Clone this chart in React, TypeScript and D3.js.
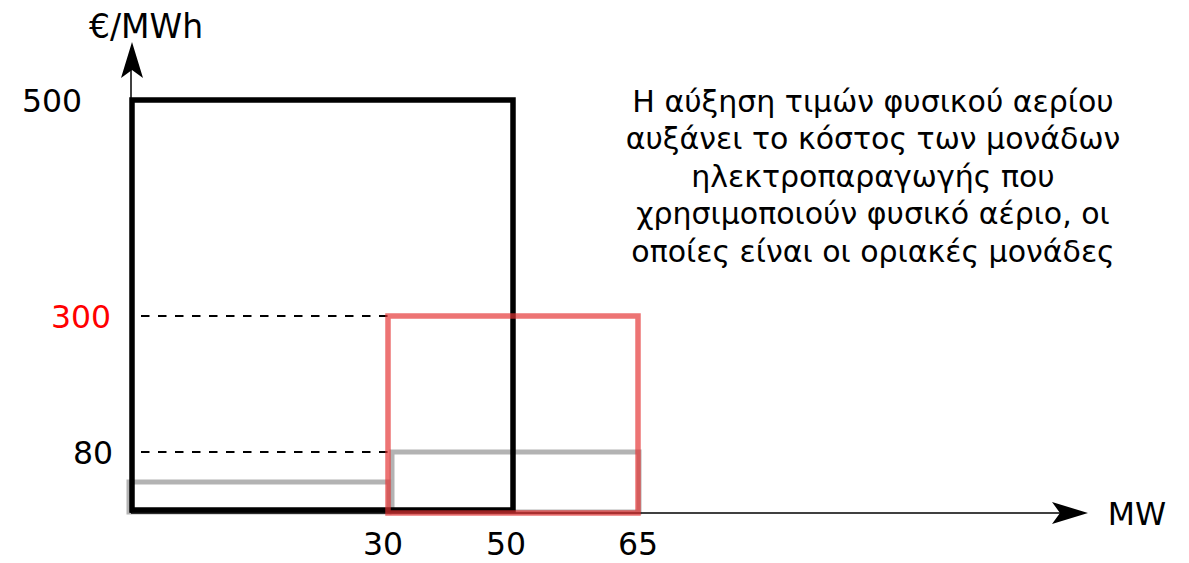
import React from "react";
import * as d3 from "d3";

// Schematic axes: value breakpoints (MW and €/MWh)
const xBreaks = [0, 30, 50, 65];
const yBreaks = [0, 80, 300, 500];
const xTickLabels = ["30", "50", "65"];
const xTickValues = [30, 50, 65];
const yTickLabels = ["500", "300", "80"];
const yTickValues = [500, 300, 80];

// Blocks: capacity range (MW) and price (€/MWh)
const grayBlocks = [
  { x0: 0, x1: 30, price: 40 },
  { x0: 30, x1: 65, price: 80 },
];
const blackBlocks = [{ x0: 0, x1: 50, price: 500 }];
const redBlocks = [{ x0: 30, x1: 65, price: 300 }];
const dashedLevels = [300, 80];

const noteLines = [
  "Η αύξηση τιμών φυσικού αερίου",
  "αυξάνει το κόστος των μονάδων",
  "ηλεκτροπαραγωγής που",
  "χρησιμοποιούν φυσικό αέριο, οι",
  "οποίες είναι οι οριακές μονάδες",
];

const W = 1189;
const H = 563;
const FONT = "'DejaVu Sans', Verdana, sans-serif";

export default function App() {
  const x = d3.scaleLinear().domain(xBreaks).range([132, 389, 513, 639]);
  const y = d3.scaleLinear().domain(yBreaks).range([512, 452, 316, 100]);
  const axisX = 131;
  const axisY = 513;

  const rect = (b: { x0: number; x1: number; price: number }) => ({
    x: x(b.x0),
    y: y(b.price),
    w: x(b.x1) - x(b.x0),
    h: y(0) - y(b.price),
  });

  // label placement per tick (schematic offsets)
  const xLabelDx = [-6, -7, -1];
  const yLabelPos = [
    { x: 52, anchor: "middle" },
    { x: 111, anchor: "end" },
    { x: 113, anchor: "end" },
  ];

  return (
    <svg width={W} height={H} style={{ position: "absolute", left: 0, top: 0, background: "#fff" }}>
      {/* gray blocks */}
      {grayBlocks.map((b, i) => {
        const r = rect(b);
        const inset = i === 1 ? 3 : -3;
        return (
          <rect key={"g" + i} x={r.x + inset} y={r.y} width={r.w - inset} height={r.h}
            fill="none" stroke="#a6a6a6" strokeWidth={5} opacity={0.85} />
        );
      })}
      {/* dashed guide lines */}
      {dashedLevels.map((v, i) => (
        <line key={"d" + i} x1={axisX + 10} x2={x(30)} y1={y(v)} y2={y(v)}
          stroke="#000" strokeWidth={1.8} strokeDasharray="8.5,8.5" />
      ))}
      {/* axes */}
      <line x1={axisX} y1={axisY} x2={axisX} y2={60} stroke="#000" strokeWidth={1.5} />
      <line x1={axisX} y1={axisY} x2={1070} y2={axisY} stroke="#000" strokeWidth={1.5} />
      <path d={`M${axisX + 1},42 L${axisX + 12},78 L${axisX + 1},70 L${axisX - 10},78 Z`} fill="#000" />
      <path d={`M1088,${axisY} L1052,${axisY - 11} L1060,${axisY} L1052,${axisY + 11} Z`} fill="#000" />
      {/* black block */}
      {blackBlocks.map((b, i) => {
        const r = rect(b);
        return (
          <rect key={"b" + i} x={r.x} y={r.y} width={r.w} height={r.h - 2}
            fill="none" stroke="#000" strokeWidth={5.5} />
        );
      })}
      {/* red block */}
      {redBlocks.map((b, i) => {
        const r = rect(b);
        return (
          <rect key={"r" + i} x={r.x - 1} y={r.y} width={r.w} height={r.h + 1}
            fill="none" stroke="rgb(228,50,50)" strokeWidth={5.5} opacity={0.68} />
        );
      })}
      {/* y tick labels */}
      {yTickValues.map((v, i) => (
        <text key={"yt" + i} x={yLabelPos[i].x} y={y(v) + 12} textAnchor={yLabelPos[i].anchor}
          fontFamily={FONT} fontSize={31.5} fill={v === 300 ? "#ff0000" : "#000"}>
          {yTickLabels[i]}
        </text>
      ))}
      {/* x tick labels */}
      {xTickValues.map((v, i) => (
        <text key={"xt" + i} x={x(v) + xLabelDx[i]} y={555} textAnchor="middle" fontFamily={FONT}
          fontSize={31.5} fill="#000">
          {xTickLabels[i]}
        </text>
      ))}
      {/* axis titles */}
      <text x={146} y={38} textAnchor="middle" fontFamily={FONT} fontSize={33} fill="#000">€/MWh</text>
      <text x={1137} y={525} textAnchor="middle" fontFamily={FONT} fontSize={31.5} fill="#000">MW</text>
      {/* note */}
      {noteLines.map((l, i) => (
        <text key={"n" + i} x={873} y={112 + i * 37.4} textAnchor="middle" fontFamily={FONT} fontSize={30}
          fill="#000">
          {l}
        </text>
      ))}
    </svg>
  );
}
